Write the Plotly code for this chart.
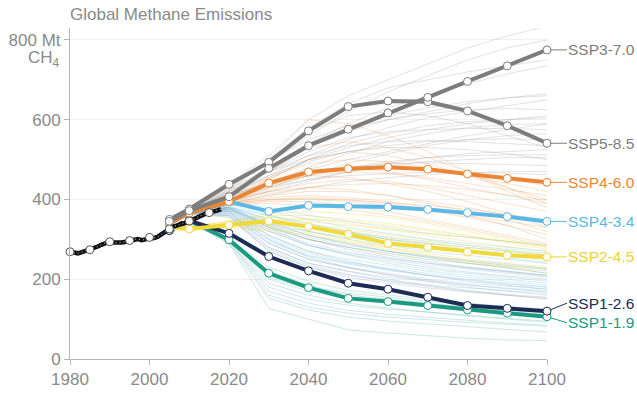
import plotly.graph_objects as go

# --- Data -------------------------------------------------------------------
hist_years = list(range(1980, 2019))
hist_values = [269, 266, 265, 268, 271, 274, 278, 282, 287, 292,
               294, 292, 291, 292, 294, 297, 300, 301, 298, 300,
               305, 303, 306, 313, 320, 326, 332, 335, 340, 341,
               346, 352, 356, 360, 364, 367, 369, 372, 376]
hist_marker_years = [1980, 1985, 1990, 1995, 2000, 2005, 2010, 2015]

ssp_years = [2005, 2010, 2020, 2030, 2040, 2050, 2060, 2070, 2080, 2090, 2100]

ssp119 = [322, 347, 299, 215, 179, 152, 144, 134, 123, 115, 106]
ssp126 = [322, 347, 315, 257, 221, 190, 175, 155, 134, 127, 120]
ssp245 = [330, 326, 336, 346, 332, 313, 290, 280, 268, 260, 256]
ssp434 = [340, 366, 395, 370, 385, 382, 381, 375, 367, 357, 345]
ssp460 = [340, 366, 395, 441, 469, 477, 481, 476, 464, 453, 443]
ssp370 = [345, 372, 407, 478, 535, 576, 617, 656, 696, 735, 775]
ssp585 = [350, 376, 438, 493, 572, 633, 647, 645, 622, 585, 541]

ssp_names = ["SSP3-7.0", "SSP5-8.5", "SSP4-6.0", "SSP4-3.4", "SSP2-4.5", "SSP1-2.6", "SSP1-1.9"]
ssp_series = [ssp370, ssp585, ssp460, ssp434, ssp245, ssp126, ssp119]
ssp_colors = ["#7d7d7d", "#7d7d7d", "#ec8532", "#5ab9e4", "#f0d93a", "#1c2c55", "#1b9a80"]
label_colors = ["#7d7d7d", "#7d7d7d", "#ec8532", "#5ab9e4", "#ecd23a", "#1c2c55", "#1b9a80"]
label_offsets = [0, 0, 0, 0, 0, -8, 6]

# Wider scenario ensemble, grouped by family
bg_grey = [
    [350, 375, 440, 510, 600, 660, 700, 740, 780, 810, 835],
    [350, 372, 430, 490, 560, 620, 670, 710, 750, 780, 800],
    [348, 370, 420, 480, 540, 590, 630, 660, 690, 715, 735],
    [345, 368, 415, 470, 530, 570, 600, 620, 640, 655, 665],
    [345, 368, 410, 460, 510, 550, 580, 605, 620, 635, 650],
    [350, 372, 425, 480, 540, 580, 600, 615, 625, 628, 625],
    [345, 365, 405, 450, 500, 540, 565, 585, 595, 600, 605],
    [345, 365, 400, 440, 480, 515, 545, 565, 580, 588, 590],
    [348, 370, 415, 470, 520, 555, 570, 575, 578, 578, 575],
    [345, 365, 400, 430, 460, 490, 515, 535, 550, 560, 565],
    [350, 372, 430, 500, 570, 610, 620, 610, 590, 560, 530],
    [345, 365, 395, 420, 445, 470, 490, 505, 515, 520, 525],
    [345, 365, 395, 425, 450, 470, 485, 495, 500, 505, 505],
    [348, 370, 410, 440, 465, 480, 490, 492, 490, 488, 485],
    [345, 365, 390, 410, 430, 445, 455, 462, 467, 470, 470],
    [350, 372, 420, 470, 500, 520, 530, 530, 525, 515, 500],
    [348, 370, 425, 500, 580, 640, 680, 700, 720, 735, 750],
    [345, 367, 410, 455, 500, 530, 555, 575, 590, 600, 610],
    [350, 373, 435, 495, 550, 585, 610, 630, 645, 655, 660],
    [345, 366, 405, 445, 475, 500, 520, 540, 560, 575, 590],
    [348, 370, 415, 460, 495, 520, 535, 545, 550, 552, 550],
    [345, 365, 400, 435, 460, 480, 495, 505, 510, 512, 512],
    [345, 366, 402, 430, 450, 460, 465, 468, 468, 466, 462],
    [350, 372, 420, 470, 510, 535, 545, 548, 545, 540, 535],
]
bg_orange = [
    [345, 368, 400, 440, 470, 480, 470, 450, 430, 410, 390],
    [340, 365, 395, 430, 460, 470, 465, 455, 440, 425, 410],
    [340, 365, 400, 450, 500, 520, 510, 490, 460, 430, 400],
    [342, 366, 395, 420, 440, 450, 445, 430, 410, 390, 370],
    [340, 365, 390, 410, 420, 420, 410, 395, 380, 360, 340],
    [340, 364, 390, 400, 405, 400, 390, 375, 360, 345, 330],
    [345, 368, 420, 500, 600, 590, 560, 520, 470, 420, 380],
    [340, 365, 395, 420, 430, 425, 410, 390, 370, 350, 320],
    [340, 365, 390, 405, 410, 405, 395, 380, 360, 335, 300],
    [342, 366, 400, 440, 460, 455, 440, 420, 395, 365, 330],
    [340, 365, 385, 390, 385, 375, 360, 345, 325, 305, 285],
    [340, 364, 385, 395, 395, 385, 370, 350, 330, 310, 290],
    [340, 365, 398, 435, 465, 478, 480, 475, 465, 450, 435],
    [342, 366, 405, 455, 490, 500, 495, 480, 460, 440, 420],
    [340, 364, 392, 415, 430, 438, 440, 435, 425, 412, 398],
    [340, 365, 388, 400, 402, 398, 392, 385, 375, 362, 350],
    [345, 368, 410, 470, 530, 545, 530, 505, 470, 430, 390],
    [340, 364, 386, 398, 400, 395, 385, 372, 355, 335, 312],
]
bg_yellow = [
    [330, 330, 340, 350, 345, 335, 325, 315, 305, 295, 285],
    [330, 330, 335, 340, 330, 315, 300, 290, 280, 270, 260],
    [330, 332, 345, 360, 360, 350, 340, 325, 310, 295, 280],
    [330, 330, 335, 330, 315, 295, 280, 265, 250, 240, 230],
    [330, 328, 330, 320, 300, 280, 265, 250, 240, 232, 225],
    [330, 330, 340, 345, 335, 320, 305, 290, 275, 260, 245],
    [330, 330, 335, 335, 320, 300, 280, 260, 245, 230, 215],
    [330, 332, 345, 365, 370, 365, 355, 340, 320, 300, 280],
    [330, 330, 338, 348, 350, 345, 335, 322, 308, 292, 275],
    [330, 331, 336, 342, 338, 325, 312, 298, 285, 272, 262],
    [330, 330, 332, 325, 310, 292, 275, 258, 245, 235, 225],
    [330, 332, 342, 355, 352, 340, 325, 310, 295, 282, 270],
]
bg_blue = [
    [340, 366, 390, 370, 350, 330, 315, 300, 290, 280, 270],
    [340, 366, 385, 350, 320, 300, 285, 270, 260, 250, 240],
    [345, 368, 380, 330, 300, 280, 265, 250, 240, 230, 220],
    [340, 365, 375, 320, 285, 265, 250, 235, 225, 215, 205],
    [345, 368, 380, 310, 270, 250, 235, 220, 210, 200, 190],
    [340, 365, 370, 300, 260, 240, 225, 210, 200, 190, 180],
    [340, 364, 365, 290, 250, 230, 215, 200, 190, 182, 175],
    [342, 366, 375, 340, 320, 305, 290, 280, 270, 260, 250],
    [340, 365, 390, 380, 360, 345, 330, 315, 305, 295, 285],
    [340, 366, 380, 350, 330, 315, 300, 290, 280, 270, 260],
    [345, 368, 385, 330, 285, 260, 240, 225, 215, 205, 195],
    [340, 365, 370, 280, 240, 220, 205, 195, 185, 178, 170],
    [342, 366, 380, 360, 340, 320, 300, 285, 270, 255, 240],
    [340, 364, 360, 270, 230, 210, 195, 185, 178, 172, 165],
    [340, 366, 388, 360, 335, 318, 305, 295, 285, 275, 265],
    [342, 366, 382, 345, 310, 288, 270, 255, 245, 235, 225],
    [340, 365, 378, 325, 290, 268, 252, 240, 230, 220, 210],
    [345, 368, 372, 305, 265, 242, 228, 215, 205, 195, 185],
    [340, 365, 368, 295, 258, 238, 222, 210, 198, 188, 180],
    [342, 366, 376, 335, 305, 285, 270, 258, 248, 238, 228],
]
bg_slate = [
    [345, 368, 375, 330, 300, 280, 260, 245, 230, 220, 210],
    [345, 368, 370, 310, 270, 245, 225, 210, 195, 185, 175],
    [345, 368, 365, 300, 255, 230, 210, 195, 180, 170, 160],
    [340, 365, 360, 280, 240, 220, 200, 185, 172, 162, 155],
    [340, 365, 355, 270, 230, 205, 190, 178, 168, 160, 150],
    [345, 368, 380, 340, 310, 290, 270, 255, 240, 228, 215],
    [345, 368, 372, 320, 285, 262, 245, 230, 218, 208, 200],
    [340, 365, 362, 290, 250, 228, 212, 198, 186, 176, 168],
    [345, 368, 378, 335, 300, 275, 255, 240, 228, 218, 208],
    [340, 365, 358, 275, 235, 212, 196, 182, 170, 160, 152],
]
bg_teal = [
    [325, 345, 300, 220, 185, 160, 150, 140, 130, 120, 112],
    [325, 345, 300, 200, 170, 150, 140, 130, 120, 112, 105],
    [325, 345, 295, 180, 150, 135, 125, 118, 110, 102, 95],
    [325, 345, 290, 152, 123, 105, 95, 88, 80, 74, 68],
    [325, 345, 290, 127, 100, 73, 65, 58, 52, 48, 46],
    [325, 345, 300, 210, 180, 165, 155, 145, 135, 128, 120],
    [325, 345, 295, 160, 130, 115, 105, 98, 92, 87, 82],
    [325, 345, 298, 190, 160, 140, 128, 118, 108, 100, 92],
    [325, 345, 302, 230, 195, 172, 160, 150, 140, 132, 125],
    [325, 345, 297, 170, 140, 122, 112, 104, 97, 90, 85],
    [325, 345, 300, 205, 175, 155, 145, 135, 125, 117, 110],
]

bg_groups = [
    (bg_grey, "rgba(160,160,160,0.38)"),
    (bg_orange, "rgba(236,133,50,0.30)"),
    (bg_yellow, "rgba(240,217,58,0.42)"),
    (bg_blue, "rgba(90,185,228,0.32)"),
    (bg_slate, "rgba(120,140,165,0.32)"),
    (bg_teal, "rgba(27,154,128,0.28)"),
]

FONT = "Liberation Sans, Arial, Helvetica, sans-serif"
GREY_TEXT = "#8a8a8a"

fig = go.Figure()

# Scenario ensemble (thin, faint)
for group, col in bg_groups:
    for vals in group:
        fig.add_trace(go.Scatter(
            x=ssp_years, y=vals, mode="lines",
            line=dict(color=col, width=0.8),
            hoverinfo="skip", showlegend=False,
        ))

# Marker scenarios (draw lower ones last so they sit on top)
for name, vals, col in reversed(list(zip(ssp_names, ssp_series, ssp_colors))):
    fig.add_trace(go.Scatter(
        x=ssp_years, y=vals, mode="lines+markers", name=name,
        line=dict(color=col, width=4),
        marker=dict(size=8, color="white", line=dict(color=col, width=1)),
        cliponaxis=False, showlegend=False,
    ))

# Historical emissions: black line with a fine white dotted core
fig.add_trace(go.Scatter(
    x=hist_years, y=hist_values, mode="lines",
    line=dict(color="#111111", width=4.5),
    showlegend=False, hoverinfo="skip",
))
fig.add_trace(go.Scatter(
    x=hist_years, y=hist_values, mode="lines",
    line=dict(color="rgba(255,255,255,0.8)", width=1, dash="1px,3px"),
    showlegend=False, hoverinfo="skip",
))
fig.add_trace(go.Scatter(
    x=hist_marker_years,
    y=[hist_values[hist_years.index(yr)] for yr in hist_marker_years],
    mode="markers",
    marker=dict(size=8, color="white", line=dict(color="#555555", width=1)),
    showlegend=False, cliponaxis=False,
))

# End-of-line scenario labels with short connectors
annotations = []
for name, vals, col, off in zip(ssp_names, ssp_series, label_colors, label_offsets):
    annotations.append(dict(
        x=ssp_years[-1], y=vals[-1], xref="x", yref="y",
        text=name, showarrow=True, arrowhead=0, arrowwidth=1,
        arrowcolor=col, ax=20, ay=off, xanchor="left",
        font=dict(family=FONT, size=15.5, color=col),
        standoff=3, borderpad=0,
    ))

# Title and unit label
annotations.append(dict(
    x=0, y=1, xref="paper", yref="paper", xanchor="left", yanchor="bottom",
    text="Global Methane Emissions", showarrow=False, yshift=2, xshift=-2,
    font=dict(family=FONT, size=17, color=GREY_TEXT),
))
annotations.append(dict(
    x=0, y=800, xref="paper", yref="y", xanchor="right", yanchor="middle",
    text="CH<sub>4</sub>", showarrow=False, xshift=-8, yshift=-19,
    font=dict(family=FONT, size=17, color=GREY_TEXT),
))

fig.update_layout(
    width=637, height=393,
    margin=dict(l=70, r=90, t=28, b=34, pad=0, autoexpand=False),
    plot_bgcolor="white", paper_bgcolor="white",
    font=dict(family=FONT, size=17, color=GREY_TEXT),
    annotations=annotations,
    xaxis=dict(
        range=[1980, 2100], tickvals=[1980, 2000, 2020, 2040, 2060, 2080, 2100],
        showgrid=False, zeroline=False, automargin=False,
        showline=True, linecolor="#b5b5b5", linewidth=1,
        ticks="outside", ticklen=5, tickcolor="#b5b5b5",
        tickfont=dict(family=FONT, size=17, color=GREY_TEXT),
    ),
    yaxis=dict(
        range=[0, 830], tickvals=[0, 200, 400, 600, 800],
        ticktext=["0", "200", "400", "600", "800 Mt"],
        showgrid=True, gridcolor="#f1f1f1", zeroline=False, automargin=False,
        showline=True, linecolor="#b5b5b5", linewidth=1,
        ticks="outside", ticklen=5, tickcolor="#b5b5b5",
        tickfont=dict(family=FONT, size=17, color=GREY_TEXT),
    ),
)

fig.write_html("out.html")
